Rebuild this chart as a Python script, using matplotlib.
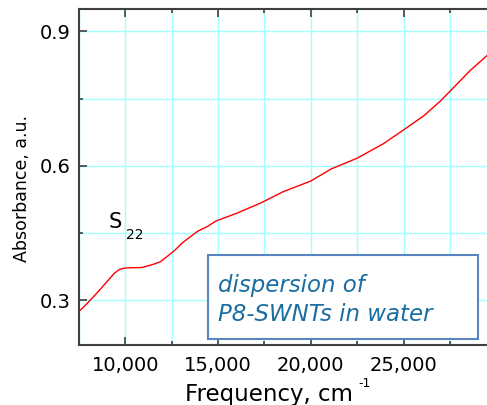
import matplotlib.pyplot as plt
from matplotlib.patches import Rectangle
from matplotlib.ticker import MultipleLocator

# spectrum
freq = [7500, 7900, 8400, 9000, 9400, 9700, 10000, 10900, 11500, 11900, 12600,
        13100, 13900, 14400, 14900, 16000, 17300, 18500, 20000, 21100,
        22500, 23900, 25000, 26100, 27000, 28600, 29500]
absorb = [0.275, 0.291, 0.313, 0.341, 0.360, 0.369, 0.372, 0.373, 0.380, 0.386, 0.409,
          0.429, 0.454, 0.464, 0.477, 0.494, 0.517, 0.542, 0.566, 0.593,
          0.617, 0.649, 0.680, 0.712, 0.745, 0.813, 0.846]

xticks = [10000, 15000, 20000, 25000]
xticklabels = ["10,000", "15,000", "20,000", "25,000"]
yticks = [0.3, 0.6, 0.9]
yticklabels = ["0.3", "0.6", "0.9"]

W, H = 487, 405
plt.rcParams['font.family'] = ['DejaVu Sans']

fig = plt.figure(figsize=(W / 100, H / 100), dpi=100)
ax = fig.add_axes([79 / W, 1 - 345 / H, 1 - 79 / W, (345 - 9) / H])

ax.plot(freq, absorb, color="red", lw=1.0, zorder=3)

ax.set_xlim(7500, 29500)
ax.set_ylim(0.2, 0.95)
ax.set_xticks(xticks)
ax.set_xticklabels(xticklabels)
ax.set_yticks(yticks)
ax.set_yticklabels(yticklabels)
ax.xaxis.set_minor_locator(MultipleLocator(2500))
ax.yaxis.set_minor_locator(MultipleLocator(0.15))

ax.grid(True, which="both", color="#a0ffff", lw=1.0, zorder=0)
ax.set_axisbelow(True)

ax.tick_params(which="both", direction="in", top=True, right=False,
               color="#404040", labelsize=14)
ax.tick_params(which="major", length=6, width=1.2)
ax.tick_params(which="minor", length=3, width=1.2)
ax.tick_params(axis="x", pad=8)
ax.tick_params(axis="y", pad=6)

for s in ["left", "bottom", "top"]:
    ax.spines[s].set_color("#404040")
    ax.spines[s].set_linewidth(1.5)
ax.spines["right"].set_visible(False)

def px(x, y):
    return x / W, 1 - y / H

# axis labels
fig.text(*px(22, 189), "Absorbance, a.u.", rotation=90, fontsize=12.5,
         ha="center", va="center")
fig.text(*px(185, 401), "Frequency, cm", fontsize=16.5, ha="left", va="baseline")
fig.text(*px(358, 387), "-1", fontsize=9, ha="left", va="baseline")

# peak label
fig.text(*px(109, 228), "S", fontsize=15, ha="left", va="baseline")
fig.text(*px(126, 239), "22", fontsize=10, ha="left", va="baseline")

# annotation box
bx0, by0, bx1, by1 = 208, 255, 478, 339
fig.patches.append(Rectangle(px(bx0, by1), (bx1 - bx0) / W, (by1 - by0) / H,
                             transform=fig.transFigure, facecolor="white",
                             edgecolor="#5a86c0", lw=1.5, zorder=5))
fig.text(*px(218, 292), "dispersion of", fontsize=16.5, style="italic",
         color="#1a6ea0", ha="left", va="baseline", zorder=6)
fig.text(*px(218, 321), "P8-SWNTs in water", fontsize=16.5, style="italic",
         color="#1a6ea0", ha="left", va="baseline", zorder=6)

fig.savefig("out.png", dpi=100)
